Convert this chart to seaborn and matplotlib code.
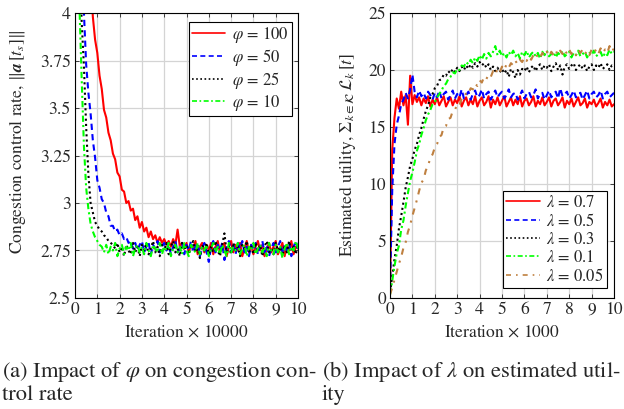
import numpy as np
import pandas as pd
import matplotlib
matplotlib.use("Agg")
import matplotlib.pyplot as plt
import seaborn as sns

# shared iteration grid (x axis of both panels), step 0.1
iters = np.round(np.arange(101) * 0.1, 1)

# ---- panel (a): congestion control rate vs iteration (x10000) ----
phi_labels = [r"$\varphi$ = 100", r"$\varphi$ = 50", r"$\varphi$ = 25", r"$\varphi$ = 10"]

rate_phi100 = [6.2, 5.9, 5.6, 5.3, 5.0, 4.7, 4.45, 4.2, 3.98, 3.86,
               3.79, 3.67, 3.60, 3.49, 3.45, 3.37, 3.33, 3.26, 3.23, 3.16,
               3.14, 3.07, 3.06, 3.00, 3.01, 2.96, 2.97, 2.91, 2.93, 2.87,
               2.90, 2.85, 2.87, 2.82, 2.85, 2.81, 2.83, 2.79, 2.82, 2.79,
               2.81, 2.78, 2.80, 2.77, 2.81, 2.78, 2.86, 2.77, 2.79, 2.76,
               2.79, 2.74, 2.78, 2.76, 2.80, 2.73, 2.77, 2.79, 2.74, 2.78,
               2.75, 2.79, 2.73, 2.77, 2.80, 2.74, 2.76, 2.79, 2.72, 2.77,
               2.80, 2.74, 2.78, 2.75, 2.79, 2.72, 2.76, 2.80, 2.74, 2.78,
               2.73, 2.77, 2.80, 2.75, 2.78, 2.72, 2.76, 2.79, 2.74, 2.77,
               2.80, 2.73, 2.76, 2.79, 2.72, 2.78, 2.75, 2.80, 2.73, 2.77,
               2.76]
rate_phi50 = [5.6, 5.2, 4.8, 4.35, 4.00, 3.73, 3.58, 3.47, 3.33, 3.24,
              3.12, 3.08, 3.02, 3.00, 2.95, 2.93, 2.88, 2.88, 2.85, 2.86,
              2.83, 2.84, 2.81, 2.82, 2.79, 2.80, 2.76, 2.79, 2.75, 2.78,
              2.80, 2.74, 2.77, 2.79, 2.73, 2.78, 2.76, 2.80, 2.74, 2.77,
              2.79, 2.75, 2.78, 2.73, 2.77, 2.80, 2.74, 2.76, 2.79, 2.73,
              2.78, 2.75, 2.80, 2.74, 2.77, 2.79, 2.72, 2.76, 2.79, 2.74,
              2.69, 2.77, 2.80, 2.74, 2.78, 2.75, 2.79, 2.70, 2.77, 2.80,
              2.74, 2.78, 2.73, 2.79, 2.76, 2.80, 2.74, 2.77, 2.72, 2.78,
              2.75, 2.79, 2.73, 2.77, 2.80, 2.74, 2.78, 2.72, 2.76, 2.79,
              2.74, 2.77, 2.80, 2.73, 2.78, 2.75, 2.79, 2.72, 2.77, 2.80,
              2.75]
rate_phi25 = [5.2, 4.7, 4.3, 3.95, 3.72, 3.40, 3.15, 3.00, 2.95, 2.90,
              2.88, 2.86, 2.85, 2.83, 2.82, 2.80, 2.79, 2.78, 2.76, 2.79,
              2.74, 2.77, 2.72, 2.78, 2.75, 2.73, 2.79, 2.74, 2.77, 2.72,
              2.78, 2.75, 2.79, 2.73, 2.76, 2.80, 2.74, 2.77, 2.72, 2.78,
              2.75, 2.79, 2.73, 2.77, 2.80, 2.74, 2.76, 2.72, 2.79, 2.75,
              2.78, 2.73, 2.77, 2.80, 2.74, 2.76, 2.71, 2.78, 2.75, 2.79,
              2.73, 2.77, 2.74, 2.80, 2.75, 2.72, 2.78, 2.84, 2.74, 2.77,
              2.73, 2.79, 2.75, 2.77, 2.72, 2.78, 2.76, 2.80, 2.74, 2.77,
              2.73, 2.79, 2.75, 2.78, 2.72, 2.77, 2.80, 2.74, 2.76, 2.73,
              2.79, 2.75, 2.77, 2.72, 2.78, 2.74, 2.80, 2.75, 2.77, 2.73,
              2.78]
rate_phi10 = [5.0, 4.4, 4.03, 3.65, 3.30, 3.08, 2.97, 2.89, 2.85, 2.82,
              2.80, 2.78, 2.77, 2.74, 2.78, 2.73, 2.77, 2.75, 2.79, 2.72,
              2.76, 2.78, 2.73, 2.77, 2.75, 2.79, 2.72, 2.76, 2.78, 2.74,
              2.77, 2.73, 2.79, 2.75, 2.72, 2.78, 2.76, 2.74, 2.79, 2.73,
              2.77, 2.75, 2.79, 2.72, 2.76, 2.78, 2.74, 2.77, 2.73, 2.79,
              2.75, 2.72, 2.78, 2.76, 2.74, 2.79, 2.73, 2.77, 2.75, 2.78,
              2.72, 2.76, 2.79, 2.74, 2.77, 2.73, 2.78, 2.75, 2.72, 2.79,
              2.74, 2.77, 2.75, 2.79, 2.73, 2.76, 2.78, 2.72, 2.77, 2.75,
              2.79, 2.73, 2.76, 2.78, 2.74, 2.77, 2.72, 2.79, 2.75, 2.73,
              2.78, 2.74, 2.77, 2.71, 2.76, 2.79, 2.73, 2.77, 2.75, 2.80,
              2.76]

# ---- panel (b): estimated utility vs iteration (x1000) ----
lam_labels = [r"$\lambda$ = 0.7", r"$\lambda$ = 0.5", r"$\lambda$ = 0.3",
              r"$\lambda$ = 0.1", r"$\lambda$ = 0.05"]

util_lam07 = [0.5, 13.0, 15.8, 17.5, 16.6, 18.1, 16.9, 17.8, 15.2, 19.5,
              17.0, 17.8, 17.2, 17.6, 16.9, 17.5, 17.1, 17.7, 16.8, 17.4,
              17.0, 17.6, 16.9, 17.3, 17.7, 16.8, 17.2, 17.6, 16.9, 17.4,
              17.1, 17.7, 16.8, 17.3, 17.6, 16.9, 17.4, 17.0, 17.7, 16.8,
              17.3, 17.6, 16.9, 17.2, 17.7, 16.7, 17.4, 17.0, 17.6, 16.9,
              17.3, 17.7, 16.8, 17.2, 17.6, 16.9, 17.4, 17.0, 17.7, 16.8,
              17.3, 17.5, 16.9, 17.2, 17.7, 16.8, 17.3, 17.0, 17.6, 16.9,
              17.2, 17.6, 16.8, 17.3, 17.5, 16.9, 17.2, 17.6, 16.7, 17.3,
              17.0, 17.5, 16.8, 17.2, 17.6, 16.9, 17.1, 17.5, 16.7, 17.2,
              17.0, 17.4, 16.8, 17.1, 17.5, 16.7, 17.2, 16.9, 17.4, 16.8,
              17.0]
util_lam05 = [0.8, 9.5, 13.5, 15.2, 16.0, 17.0, 17.4, 18.0, 17.5, 18.3,
              19.6, 18.1, 17.6, 18.2, 17.7, 18.0, 17.5, 18.1, 17.8, 17.4,
              18.0, 17.6, 18.2, 17.5, 17.9, 18.1, 17.4, 17.8, 18.2, 17.5,
              17.9, 17.6, 18.3, 17.5, 17.8, 18.1, 17.4, 17.9, 18.2, 17.6,
              17.8, 18.3, 17.5, 17.9, 18.1, 17.4, 17.8, 18.2, 17.6, 17.9,
              18.1, 17.5, 17.8, 18.3, 17.6, 17.9, 18.0, 17.4, 17.8, 18.2,
              17.5, 17.9, 18.1, 17.6, 17.8, 18.3, 17.5, 17.9, 18.0, 17.4,
              17.8, 18.2, 17.6, 17.9, 18.1, 17.5, 18.4, 17.7, 17.9, 18.1,
              17.5, 17.8, 18.2, 17.6, 17.9, 18.0, 17.4, 17.8, 18.2, 17.5,
              17.9, 18.1, 17.6, 17.8, 18.2, 17.5, 17.9, 18.1, 17.6, 17.8,
              18.0]
util_lam03 = [0.5, 1.9, 3.4, 4.6, 6.1, 7.2, 8.4, 9.7, 10.6, 11.6,
              12.2, 13.0, 13.5, 14.3, 14.9, 15.7, 16.4, 16.9, 17.6, 17.9,
              18.4, 18.6, 19.1, 19.2, 19.6, 19.5, 19.9, 19.7, 20.1, 19.8,
              20.2, 19.9, 20.3, 20.0, 20.4, 20.1, 20.5, 20.2, 20.6, 20.3,
              20.7, 20.4, 20.6, 20.2, 20.5, 20.0, 20.3, 19.9, 20.2, 19.8,
              20.1, 19.7, 20.0, 19.4, 20.1, 19.8, 19.3, 20.0, 19.6, 20.1,
              19.9, 20.3, 19.8, 20.2, 20.4, 19.9, 20.3, 20.5, 20.0, 20.4,
              20.2, 20.5, 19.9, 20.3, 20.6, 20.0, 20.4, 19.6, 20.3, 20.5,
              20.1, 20.4, 20.6, 20.0, 20.3, 20.5, 20.1, 20.4, 19.9, 20.3,
              20.5, 20.0, 20.4, 20.2, 20.6, 20.1, 20.3, 20.5, 20.0, 20.4,
              20.3]
util_lam01 = [0.3, 1.5, 2.8, 3.9, 4.6, 6.0, 6.8, 8.1, 9.2, 10.3,
              11.0, 11.9, 12.9, 13.5, 14.3, 14.9, 15.6, 16.1, 16.5, 17.0,
              17.2, 17.6, 17.9, 18.2, 18.6, 18.8, 19.2, 19.4, 19.8, 19.7,
              20.1, 20.0, 20.4, 20.3, 20.7, 20.5, 20.9, 20.6, 21.1, 20.8,
              21.3, 20.9, 21.4, 21.0, 21.5, 21.2, 21.6, 22.1, 21.3, 21.7,
              21.2, 21.5, 21.1, 21.6, 21.3, 21.7, 21.2, 21.5, 21.0, 21.6,
              21.3, 21.7, 21.1, 21.4, 21.6, 21.2, 21.5, 21.0, 21.6, 21.3,
              21.7, 21.2, 21.4, 21.6, 21.1, 21.5, 21.3, 21.7, 21.2, 21.4,
              21.6, 21.1, 21.5, 21.3, 21.7, 21.2, 21.4, 21.6, 21.1, 21.5,
              21.3, 21.7, 21.2, 21.4, 21.6, 21.1, 21.5, 21.3, 21.8, 21.4,
              21.6]
util_lam005 = [0.3, 0.9, 1.6, 2.3, 3.0, 3.6, 4.4, 4.9, 5.8, 6.4,
               7.2, 7.9, 8.6, 9.4, 10.1, 10.4, 11.2, 11.6, 12.3, 12.6,
               13.2, 13.5, 14.1, 14.3, 15.0, 15.1, 15.7, 15.8, 16.4, 16.5,
               17.0, 16.9, 17.5, 17.5, 18.0, 17.9, 18.4, 18.3, 18.8, 18.6,
               19.1, 18.9, 19.4, 19.2, 19.6, 19.4, 19.9, 19.6, 20.1, 19.8,
               20.3, 20.0, 20.5, 20.2, 20.6, 20.4, 20.8, 20.5, 20.9, 20.7,
               21.1, 20.8, 21.2, 20.9, 21.3, 21.0, 21.4, 21.1, 21.5, 21.2,
               21.6, 21.2, 21.6, 21.3, 21.7, 21.3, 21.7, 21.4, 21.8, 21.4,
               21.8, 21.4, 21.7, 21.3, 21.8, 21.5, 21.8, 21.4, 21.7, 21.3,
               21.8, 21.5, 21.8, 21.4, 21.9, 21.5, 21.8, 21.5, 22.1, 21.6,
               21.9]

x_ticks = list(range(0, 11))
rate_ticks = [2.5, 2.75, 3, 3.25, 3.5, 3.75, 4]
rate_tick_labels = ["2.5", "2.75", "3", "3.25", "3.5", "3.75", "4"]
util_ticks = [0, 5, 10, 15, 20, 25]

df_a = pd.concat([
    pd.DataFrame({"x": iters, "y": vals, "series": lab})
    for lab, vals in zip(phi_labels, [rate_phi100, rate_phi50, rate_phi25, rate_phi10])
], ignore_index=True)
df_b = pd.concat([
    pd.DataFrame({"x": iters, "y": vals, "series": lab})
    for lab, vals in zip(lam_labels, [util_lam07, util_lam05, util_lam03, util_lam01, util_lam005])
], ignore_index=True)

sns.set_style("ticks")
plt.rcParams["font.family"] = ["STIXGeneral", "Liberation Serif", "DejaVu Serif"]
plt.rcParams["mathtext.fontset"] = "stix"
plt.rcParams["axes.edgecolor"] = "black"
plt.rcParams["axes.linewidth"] = 0.8

colors_a = dict(zip(phi_labels, ["#ff0000", "#0000ff", "#000000", "#00ff00"]))
dashes_a = dict(zip(phi_labels, ["", (3, 2), (1, 1.5), (3, 1.5, 1, 1.5)]))
colors_b = dict(zip(lam_labels, ["#ff0000", "#0000ff", "#000000", "#00ff00", "#bf8040"]))
dashes_b = dict(zip(lam_labels, ["", (3, 2), (1, 1.5), (3, 1.5, 1, 1.5), (3, 3, 1, 3)]))

fig = plt.figure(figsize=(6.24, 4.09), dpi=100)
ax1 = fig.add_axes([0.1202, 0.2714, 0.3574, 0.6968])
ax2 = fig.add_axes([0.6250, 0.2714, 0.3590, 0.6968])

sns.lineplot(data=df_a, x="x", y="y", hue="series", style="series",
             hue_order=phi_labels, style_order=phi_labels,
             palette=colors_a, dashes=dashes_a, estimator=None,
             linewidth=1.5, ax=ax1)
sns.lineplot(data=df_b, x="x", y="y", hue="series", style="series",
             hue_order=lam_labels, style_order=lam_labels,
             palette=colors_b, dashes=dashes_b, estimator=None,
             linewidth=1.5, ax=ax2)

fs = 12.6
for ax in (ax1, ax2):
    ax.set_xlim(0, 10)
    ax.set_xticks(x_ticks)
    ax.grid(True, color="#d4d4d4", linewidth=0.9)
    ax.set_axisbelow(True)
    ax.tick_params(direction="in", length=3, top=True, right=True,
                   labelsize=fs, width=0.6, pad=3)
    for s in ax.spines.values():
        s.set_color("black")
        s.set_linewidth(0.8)

ax1.set_ylim(2.5, 4)
ax1.set_yticks(rate_ticks)
ax1.set_yticklabels(rate_tick_labels)
ax2.set_ylim(0, 25)
ax2.set_yticks(util_ticks)

ax1.set_xlabel(r"Iteration $\times$ 10000", fontsize=fs)
ax2.set_xlabel(r"Iteration $\times$ 1000", fontsize=fs)
ax1.set_ylabel(r"Congestion control rate, $\|\boldsymbol{a}\,[t_s]\|$", fontsize=fs)
ax2.set_ylabel(r"Estimated utility, $\Sigma_{k\in\mathcal{K}}\,\mathcal{L}_k\,[t]$", fontsize=fs)
for ax in (ax1, ax2):
    ax.xaxis.label.set_va("center")
    ax.yaxis.label.set_va("center")
ax1.xaxis.set_label_coords(0.5, -0.123)
ax2.xaxis.set_label_coords(0.5, -0.123)
ax1.yaxis.set_label_coords(-0.26, 0.547)
ax2.yaxis.set_label_coords(-0.1875, 0.502)

for ax, loc, anchor in ((ax1, "upper right", (0.973, 0.97)), (ax2, "lower right", (0.97, 0.035))):
    old = ax.get_legend()
    handles = old.legend_handles
    labels = [t.get_text() for t in old.get_texts()]
    old.remove()
    leg = ax.legend(handles, labels, loc=loc, bbox_to_anchor=anchor, fontsize=12,
                    frameon=True, fancybox=False, framealpha=1, edgecolor="black",
                    handlelength=2.0, handletextpad=0.4, borderpad=0.2,
                    labelspacing=0.12, borderaxespad=0)
    leg.get_frame().set_linewidth(0.8)
    for h in leg.legend_handles:
        h.set_linewidth(1.2)

cap_fs = 16.2
fig.text(2 / 624, 1 - 372 / 409, r"(a) Impact of $\varphi$ on congestion con-",
         fontsize=cap_fs, va="center", ha="left")
fig.text(2 / 624, 1 - 395 / 409, "trol rate", fontsize=cap_fs, va="center", ha="left")
fig.text(322 / 624, 1 - 372 / 409, r"(b) Impact of $\lambda$ on estimated util-",
         fontsize=cap_fs, va="center", ha="left")
fig.text(322 / 624, 1 - 395 / 409, "ity", fontsize=cap_fs, va="center", ha="left")

fig.savefig("out.png", dpi=100)
